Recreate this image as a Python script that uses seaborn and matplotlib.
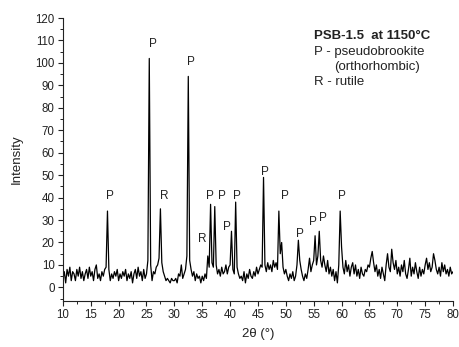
import numpy as np
import pandas as pd
import matplotlib
matplotlib.use("Agg")
import matplotlib.pyplot as plt
import seaborn as sns
from matplotlib.ticker import MultipleLocator

two_theta_start = 10.0
two_theta_step = 0.25
intensity = [
    4, 7, 2, 8,   5, 9, 3, 7,   6, 3, 8, 5,   9, 4, 7, 3,      # 10-13
    6, 8, 4, 9,   5, 7, 3, 8,   10, 4, 6, 3,  7, 5, 8, 9,      # 14-17
    34, 8, 3, 6,  4, 7, 5, 8,   3, 6, 4, 7,   5, 8, 3, 6,      # 18-21
    4, 7, 2, 6,   8, 4, 9, 5,   7, 3, 8, 4,   6, 12, 102, 10,  # 22-25
    3, 7, 6, 9,   10, 13, 35, 11, 7, 5, 3, 4,  3, 2, 4, 3,     # 26-29
    3, 4, 2, 6,   5, 10, 4, 6,  8, 14, 94, 12, 8, 5, 7, 3,     # 30-33
    6, 4, 5, 2,   5, 3, 6, 4,   14, 9, 37, 11, 9, 36, 10, 6,   # 34-37
    8, 5, 9, 6,   7, 10, 6, 9,  10, 25, 8, 6, 38, 9, 6, 4,     # 38-41
    5, 3, 7, 2,   6, 4, 8, 5,   4, 7, 5, 9,  6, 8, 10, 9,      # 42-45
    49, 10, 7, 11, 8, 10, 7, 12, 9, 11, 8, 34, 15, 20, 9, 6,   # 46-49
    8, 5, 3, 6,   4, 7, 3, 5,   10, 21, 12, 8, 5, 3, 6, 4,     # 50-53
    8, 13, 7, 10, 12, 23, 10, 14, 25, 12, 9, 14, 10, 7, 12, 6, # 54-57
    9, 5, 8, 3,   7, 2, 10, 34, 18, 9, 6, 12, 7, 10, 5, 9,     # 58-61
    11, 6, 10, 5, 8, 4, 9, 6,   5, 8, 7, 10, 9, 13, 16, 11,    # 62-65
    7, 10, 5, 8,  4, 9, 6, 3,   10, 15, 9, 7, 17, 11, 8, 12,   # 66-69
    6, 9, 5, 10,  7, 12, 6, 4,  8, 13, 5, 9,  6, 11, 7, 4,     # 70-73
    9, 5, 8, 6,   10, 13, 8, 11, 7, 9, 15, 12, 8, 6, 9, 5,     # 74-77
    11, 7, 10, 6, 8, 5, 9, 6,   7,                             # 78-80
]
two_theta = [two_theta_start + i * two_theta_step for i in range(len(intensity))]

# phase labels: (letter, x, y)
label_text = ["P", "P", "R", "P", "R", "P", "P", "P", "P", "P", "P", "P", "P", "P", "P"]
label_x = [18.4, 26.1, 28.2, 33.0, 35.0, 36.3, 38.6, 39.4, 41.3, 46.3, 49.9, 52.5, 54.9, 56.7, 60.0]
label_y = [40.5, 108.5, 40.5, 100.5, 21.5, 40.5, 40.5, 27, 40.5, 51.5, 40.5, 24, 29, 31, 40.5]

legend_title = "PSB-1.5  at 1150°C"
legend_lines = ["P - pseudobrookite", "(orthorhombic)", "R - rutile"]

df = pd.DataFrame({"2theta": two_theta, "Intensity": intensity})

sns.set_style("ticks")
plt.rcParams["font.family"] = ["Liberation Sans", "DejaVu Sans"]
text_color = "#222222"

fig = plt.figure(figsize=(4.59, 3.47), dpi=100)
ax = fig.add_axes([0.137, 0.133, 0.85, 0.815])

sns.lineplot(data=df, x="2theta", y="Intensity", ax=ax, color="black", linewidth=0.9)

ax.set_xlim(10, 80)
ax.set_ylim(-6, 120)
ax.xaxis.set_major_locator(MultipleLocator(5))
ax.xaxis.set_minor_locator(MultipleLocator(2.5))
ax.yaxis.set_major_locator(MultipleLocator(10))
ax.yaxis.set_minor_locator(MultipleLocator(5))
ax.tick_params(which="major", direction="out", length=3.5, width=0.8, labelsize=8.3,
               colors=text_color, pad=2.5)
ax.tick_params(which="minor", direction="out", length=2, width=0.7, colors=text_color)
for s in ["top", "right"]:
    ax.spines[s].set_visible(False)
for s in ["left", "bottom"]:
    ax.spines[s].set_linewidth(0.8)
    ax.spines[s].set_color(text_color)

ax.set_xlabel("2θ (°)", fontsize=9.5, color=text_color, labelpad=5)
ax.set_ylabel("Intensity", fontsize=9.5, color=text_color, labelpad=9)

for t, x, y in zip(label_text, label_x, label_y):
    ax.text(x, y, t, fontsize=8.5, ha="center", va="center", color=text_color)

ax.text(55.0, 112.0, legend_title, fontsize=9.5, fontweight="bold", ha="left", va="center",
        color=text_color)
ax.text(55.0, 104.8, legend_lines[0], fontsize=9.5, ha="left", va="center", color=text_color)
ax.text(58.6, 98.3, legend_lines[1], fontsize=9.5, ha="left", va="center", color=text_color)
ax.text(55.0, 91.4, legend_lines[2], fontsize=9.5, ha="left", va="center", color=text_color)

fig.savefig("out.png", dpi=100, facecolor="white")
